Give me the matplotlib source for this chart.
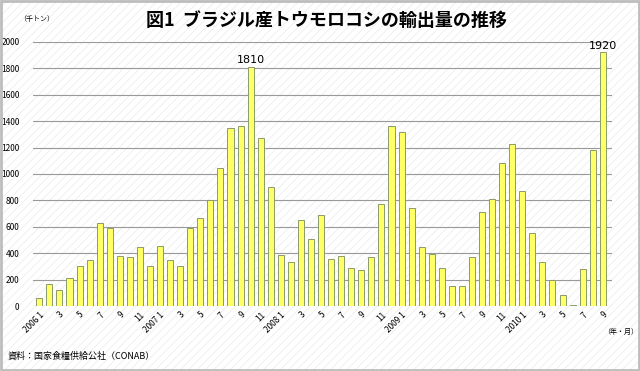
import matplotlib
matplotlib.use('Agg')
import matplotlib.pyplot as plt
from matplotlib.patches import Rectangle

plt.rcParams['font.family'] = ['Noto Sans CJK JP', 'DejaVu Sans']
plt.rcParams['hatch.linewidth'] = 0.6

# monthly exports, 2006-01 .. 2010-09 (thousand tons)
years = [2006, 2007, 2008, 2009, 2010]
exports = [
    60, 170, 120, 210, 300, 350, 630, 590, 380, 370, 450, 300,      # 2006
    455, 350, 300, 590, 670, 800, 1045, 1350, 1360, 1810, 1270, 900,  # 2007
    390, 330, 650, 510, 690, 360, 380, 290, 270, 370, 770, 1360,    # 2008
    1320, 740, 450, 395, 290, 155, 155, 370, 710, 810, 1080, 1230,  # 2009
    870, 550, 330, 200, 85, 5, 280, 1185, 1920,                     # 2010
]
labelled = {21: '1810', 56: '1920'}

months = [(years[0] + i // 12, i % 12 + 1) for i in range(len(exports))]
tick_pos = [i for i, (y, m) in enumerate(months) if m % 2 == 1]
tick_lab = [f'{y} {m}' if m == 1 else str(m) for y, m in (months[i] for i in tick_pos)]

fig = plt.figure(figsize=(6.4, 3.71), dpi=100)
fig.patches.append(Rectangle((0, 0), 1, 1, transform=fig.transFigure, facecolor='white',
                             edgecolor='#eeeeee', hatch='////', lw=0, zorder=-10))
fig.patches.append(Rectangle((0.002, 0.003), 0.996, 0.994, transform=fig.transFigure,
                             fill=False, edgecolor='#bdbdbd', lw=2, zorder=10))

ax = fig.add_axes([0.052, 0.175, 0.904, 0.712])
ax.patch.set_alpha(0)
x = list(range(len(exports)))
ax.bar(x, exports, width=0.6, color='#ffff66', edgecolor='#8a9a6a', linewidth=0.7, zorder=3)
for i, txt in labelled.items():
    ax.text(i, exports[i] + 15, txt, ha='center', va='bottom', fontsize=8,
            family='DejaVu Sans', zorder=4)

ax.set_ylim(0, 2000)
ax.set_xlim(-0.6, len(exports) - 0.1)
ax.set_yticks(range(0, 2001, 200))
ax.tick_params(axis='y', labelsize=6, length=0, pad=10)
ax.set_xticks(tick_pos)
ax.set_xticklabels(tick_lab, rotation=45, ha='right', rotation_mode='anchor', fontsize=6)
ax.tick_params(axis='x', length=0, pad=3)
ax.grid(axis='y', color='#999999', linewidth=0.8, zorder=0)
for s in ax.spines.values():
    s.set_visible(False)

fig.text(0.51, 0.945, '図1  ブラジル産トウモロコシの輸出量の推移', ha='center', va='center',
         fontsize=13, fontweight='bold')
fig.text(0.03, 0.95, '（千トン）', ha='left', va='center', fontsize=5)
fig.text(0.943, 0.105, '（年・月）', ha='left', va='center', fontsize=5)
fig.text(0.012, 0.04, '資料：国家食糧供給公社（CONAB）', ha='left', va='center', fontsize=6.5)

fig.savefig('out.png', dpi=100)
